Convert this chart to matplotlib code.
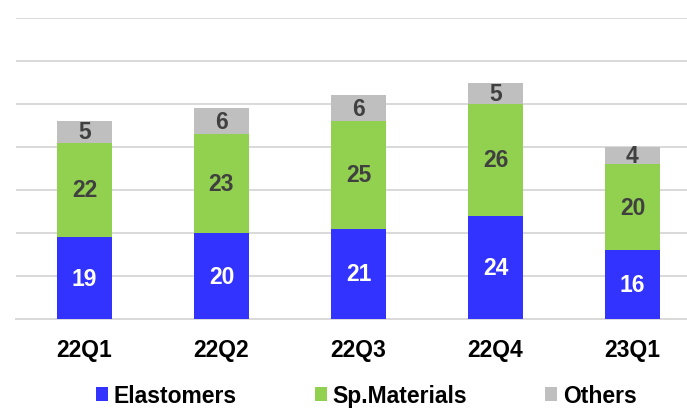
import matplotlib
matplotlib.use("Agg")
import matplotlib.pyplot as plt
import numpy as np

categories = ["22Q1", "22Q2", "22Q3", "22Q4", "23Q1"]
elastomers = [19, 20, 21, 24, 16]
sp_materials = [22, 23, 25, 26, 20]
others = [5, 6, 6, 5, 4]
series_names = ["Elastomers", "Sp.Materials", "Others"]

plt.rcParams['font.family'] = ['Liberation Sans', 'DejaVu Sans']

fig = plt.figure(figsize=(6.87, 4.10), dpi=100)
ax = fig.add_axes([16/687, 1-320/410, 1-16/687, (320-19)/410])

x = np.arange(len(categories))
w = 0.4
colors = ["#3333FF", "#92D050", "#BFBFBF"]
label_colors = ["white", "#404040", "#404040"]
bottom = np.zeros(len(categories))
for vals, name, c, lc in zip([elastomers, sp_materials, others], series_names, colors, label_colors):
    v = np.array(vals, dtype=float)
    bars = ax.bar(x, v, w, bottom=bottom, color=c, label=name, zorder=3)
    ax.bar_label(bars, labels=[str(int(t)) for t in v], label_type='center',
                 color=lc, fontsize=16.5, fontweight='bold', zorder=4)
    bottom += v

ax.set_ylim(0, 70)
ax.set_xlim(-0.5, 4.398)
ax.set_yticks(np.arange(0, 71, 10))
ax.yaxis.grid(True, color="#D9D9D9", linewidth=1.4, zorder=0)
ax.set_axisbelow(True)
ax.tick_params(axis='y', left=False, labelleft=False)
ax.set_xticks(x)
ax.set_xticklabels(categories, fontsize=16.5, fontweight='bold', color='black')
ax.tick_params(axis='x', length=0, pad=13.5)
for s in ['top', 'right', 'left']:
    ax.spines[s].set_visible(False)
ax.spines['bottom'].set_color("#D9D9D9")
ax.spines['bottom'].set_linewidth(1.4)

fig.legend(loc='center', bbox_to_anchor=(0.533, 0.033), ncol=3, frameon=False,
           prop={'size': 16.5, 'weight': 'bold'}, handlelength=0.52, handleheight=0.52,
           handletextpad=0.26, columnspacing=3.4, borderaxespad=0, borderpad=0)

fig.savefig("out.png", dpi=100)
